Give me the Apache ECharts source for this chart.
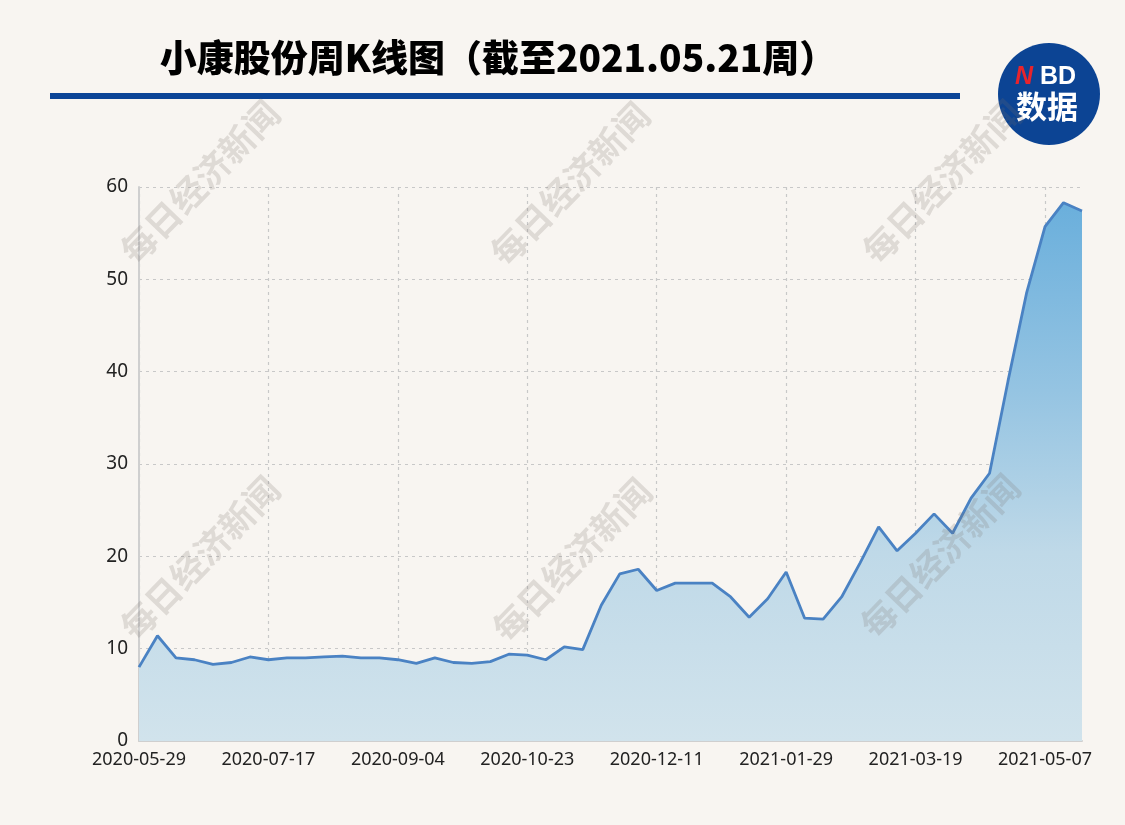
<!DOCTYPE html>
<html>
<head>
<meta charset="utf-8">
<script src="https://cdn.jsdelivr.net/npm/echarts@6/dist/echarts.min.js"></script>
<style>
html,body{margin:0;padding:0;background:#f8f5f1;}
#chart{width:1125px;height:825px;}
</style>
</head>
<body>
<div id="chart"></div>
<script>
const titleText = '小康股份周K线图（截至2021.05.21周）';
const watermarkText = '每日经济新闻';
const categories = [
  '2020-05-29','2020-06-05','2020-06-12','2020-06-19','2020-06-26',
  '2020-07-03','2020-07-10','2020-07-17','2020-07-24','2020-07-31',
  '2020-08-07','2020-08-14','2020-08-21','2020-08-28',
  '2020-09-04','2020-09-11','2020-09-18','2020-09-25',
  '2020-10-02','2020-10-09','2020-10-16','2020-10-23','2020-10-30',
  '2020-11-06','2020-11-13','2020-11-20','2020-11-27',
  '2020-12-04','2020-12-11','2020-12-18','2020-12-25',
  '2021-01-01','2021-01-08','2021-01-15','2021-01-22','2021-01-29',
  '2021-02-05','2021-02-12','2021-02-19','2021-02-26',
  '2021-03-05','2021-03-12','2021-03-19','2021-03-26',
  '2021-04-02','2021-04-09','2021-04-16','2021-04-23','2021-04-30',
  '2021-05-07','2021-05-14','2021-05-21'
];
const closePrices = [
  8.0, 11.4, 9.0, 8.8, 8.3,
  8.5, 9.1, 8.8, 9.0, 9.0,
  9.1, 9.2, 9.0, 9.0,
  8.8, 8.4, 9.0, 8.5,
  8.4, 8.6, 9.4, 9.3, 8.8,
  10.2, 9.9, 14.7, 18.1,
  18.6, 16.3, 17.1, 17.1,
  17.1, 15.6, 13.4, 15.4, 18.3,
  13.3, 13.2, 15.6, 19.3,
  23.2, 20.6, 22.5, 24.6,
  22.5, 26.3, 29.0, 39.0, 48.5,
  55.7, 58.3, 57.4
];
const yTicks = [0, 10, 20, 30, 40, 50, 60];

const chart = echarts.init(document.getElementById('chart'), null, {renderer: 'canvas'});

const wmPositions = [[200,182],[570,184],[942,182],[200,558],[572,560],[940,556]];
const watermarks = wmPositions.map(p => ({
  type: 'text', x: p[0], y: p[1], rotation: 0.8, z: 100, silent: true,
  style: {
    text: watermarkText, textAlign: 'center', textVerticalAlign: 'middle',
    font: 'bold 35px "Noto Sans CJK SC", sans-serif',
    fill: 'rgba(120,112,104,0.2)'
  }
}));

const option = {
  backgroundColor: '#f8f5f1',
  animation: false,
  grid: {left: 139, right: 43, top: 187, bottom: 84, containLabel: false},
  xAxis: {
    type: 'category',
    data: categories,
    boundaryGap: false,
    axisLine: {show: true, lineStyle: {color: '#cfcfcf', width: 2}},
    axisTick: {show: false},
    axisLabel: {
      interval: 6, color: '#222', fontSize: 18, margin: 10,
      fontFamily: '"Noto Sans", sans-serif'
    },
    splitLine: {
      show: true, interval: 6,
      lineStyle: {color: '#c8c8c8', type: [3, 4], width: 1.2}
    }
  },
  yAxis: {
    type: 'value',
    min: yTicks[0], max: yTicks[yTicks.length - 1], interval: 10,
    axisLine: {show: true, lineStyle: {color: '#cfcfcf', width: 2}},
    axisTick: {show: false},
    axisLabel: {color: '#222', fontSize: 19, margin: 11, fontFamily: '"Noto Sans", sans-serif'},
    splitLine: {show: true, lineStyle: {color: '#c8c8c8', type: [3, 4], width: 1.2}}
  },
  series: [{
    type: 'line',
    data: closePrices,
    symbol: 'none',
    smooth: false,
    lineStyle: {color: '#4a82c3', width: 2.8},
    areaStyle: {
      opacity: 1,
      color: new echarts.graphic.LinearGradient(0, 0, 0, 1, [
        {offset: 0, color: '#6aafdc'},
        {offset: 0.35, color: '#95c4e2'},
        {offset: 0.65, color: '#bfd9e8'},
        {offset: 1, color: '#d1e3ec'}
      ])
    }
  }],
  graphic: [
    {
      type: 'text', x: 498, y: 58, z: 50,
      style: {
        text: titleText, textAlign: 'center', textVerticalAlign: 'middle',
        font: '900 37px "Noto Sans CJK SC", sans-serif', fill: '#000'
      }
    },
    {
      type: 'rect', z: 50,
      shape: {x: 50, y: 93, width: 910, height: 6},
      style: {fill: '#0b4597'}
    },
    {
      type: 'circle', z: 50,
      shape: {cx: 1049, cy: 94, r: 51},
      style: {fill: '#0c4494'}
    },
    {
      type: 'text', x: 1024, y: 77, z: 51,
      style: {
        text: 'N', textAlign: 'center', textVerticalAlign: 'middle',
        font: 'italic bold 25px "Liberation Sans", sans-serif', fill: '#e8242c'
      }
    },
    {
      type: 'text', x: 1058, y: 77, z: 51,
      style: {
        text: 'BD', textAlign: 'center', textVerticalAlign: 'middle',
        font: 'bold 25px "Liberation Sans", sans-serif', fill: '#ffffff'
      }
    },
    {
      type: 'text', x: 1047, y: 106, z: 51,
      style: {
        text: '数据', textAlign: 'center', textVerticalAlign: 'middle',
        font: 'bold 31px "Noto Sans CJK SC", sans-serif', fill: '#ffffff'
      }
    }
  ].concat(watermarks)
};
chart.setOption(option);
</script>
</body>
</html>
